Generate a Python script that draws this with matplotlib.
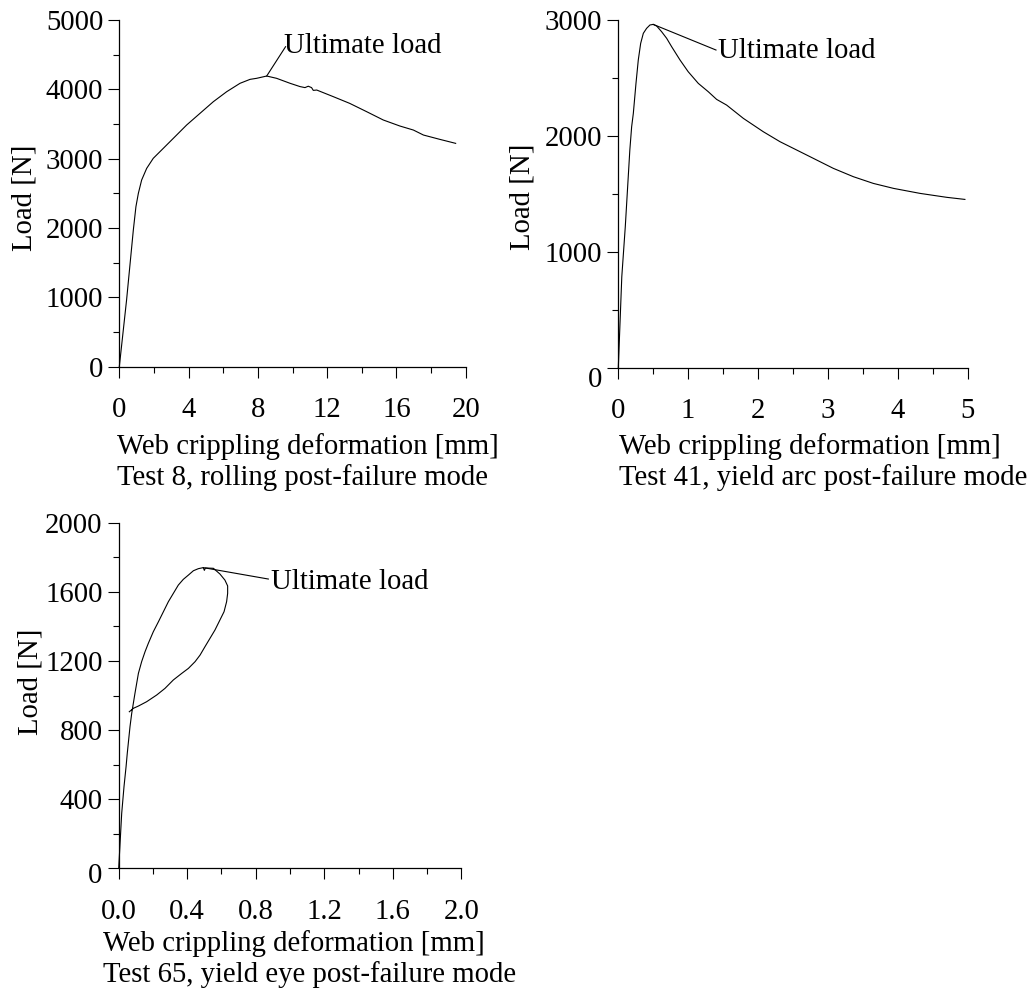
import matplotlib
matplotlib.use("Agg")
import matplotlib.pyplot as plt
from matplotlib.ticker import MultipleLocator, FormatStrFormatter
from matplotlib.transforms import ScaledTranslation

plt.rcParams['font.family'] = ['Liberation Serif', 'DejaVu Serif']
plt.rcParams['font.size'] = 20.7

# ---------------- data ----------------
# Test 8, rolling post-failure mode
t8_def = [0.0, 0.42, 0.81, 0.96, 1.1, 1.29, 1.58, 1.96, 2.54, 3.31, 3.89, 4.66, 5.43, 6.2,
          6.97, 7.55, 7.93, 8.51, 9.08, 9.86, 10.43, 10.72, 10.91, 11.1, 11.2, 11.4,
          12.36, 13.3, 14.28, 15.24, 16.2, 16.98, 17.56, 18.5, 19.42]
t8_load = [0, 962, 1971, 2308, 2500, 2692, 2860, 3005, 3149, 3341, 3486, 3654, 3822, 3966,
           4087, 4144, 4159, 4192, 4159, 4087, 4040, 4025, 4045, 4025, 3985, 3990,
           3894, 3798, 3678, 3558, 3471, 3413, 3341, 3279, 3221]

# Test 41, yield arc post-failure mode
t41_def = [0.0, 0.05, 0.1, 0.165, 0.191, 0.215, 0.253, 0.286, 0.32, 0.358, 0.405, 0.453,
           0.5, 0.549, 0.62, 0.692, 0.763, 0.883, 1.0, 1.145, 1.288, 1.407, 1.55, 1.79,
           2.075, 2.314, 2.696, 3.077, 3.364, 3.65, 3.94, 4.318, 4.7, 4.96]
t41_load = [0, 785, 1217, 1878, 2079, 2194, 2453, 2655, 2798, 2885, 2928, 2957,
            2962, 2948, 2899, 2842, 2770, 2655, 2554, 2453, 2381, 2315, 2266, 2151,
            2036, 1950, 1835, 1720, 1648, 1590, 1547, 1504, 1470, 1452]

# Test 65, yield eye post-failure mode
t65_def = [0.0, 0.0175, 0.031, 0.043, 0.05, 0.066, 0.076, 0.095, 0.115, 0.134, 0.154, 0.173,
           0.202, 0.232, 0.261, 0.29, 0.319, 0.348, 0.377, 0.407, 0.436, 0.465, 0.494,
           0.500, 0.506, 0.553, 0.591, 0.62, 0.636, 0.636, 0.630, 0.615, 0.591, 0.562,
           0.533, 0.504, 0.475, 0.446, 0.407, 0.368, 0.319, 0.27, 0.222, 0.163, 0.115,
           0.086, 0.062]
t65_load = [0, 318, 473, 588, 665, 820, 897, 1013, 1128, 1196, 1254, 1302,
            1369, 1427, 1485, 1543, 1591, 1639, 1672, 1697, 1722, 1734, 1740,
            1724, 1738, 1736, 1703, 1668, 1634, 1591, 1543, 1485, 1437, 1379,
            1331, 1283, 1234, 1196, 1157, 1128, 1090, 1041, 1003, 964, 939,
            926, 906]

x_label = "Web crippling deformation [mm]"
y_label = "Load [N]"
captions = ["Test 8, rolling post-failure mode",
            "Test 41, yield arc post-failure mode",
            "Test 65, yield eye post-failure mode"]
ann_text = "Ultimate load"

# ---------------- figure ----------------
W, H = 1036, 992
fig = plt.figure(figsize=(W / 100, H / 100), dpi=100)


def fx(px):
    return px / W


def fy(py):
    return 1 - py / H


def make_ax(l, t, r, b):
    ax = fig.add_axes([fx(l), fy(b), fx(r) - fx(l), fy(t) - fy(b)])
    for s in ('top', 'right'):
        ax.spines[s].set_visible(False)
    for s in ('left', 'bottom'):
        ax.spines[s].set_linewidth(0.9)
        ax.spines[s].set_color('black')
    ax.tick_params(which='major', direction='out', length=8, width=0.8, colors='black')
    ax.tick_params(which='minor', direction='out', length=4.3, width=0.8, colors='black')
    ax.tick_params(axis='x', which='major', pad=14)
    ax.tick_params(axis='y', which='major', pad=3.6)
    ax.patch.set_visible(False)
    return ax


def shift_zero_label(ax, dy_px):
    fig.canvas.draw()
    for t in ax.yaxis.get_major_ticks():
        if abs(t.get_loc()) < 1e-9:
            lab = t.label1
            lab.set_transform(lab.get_transform() +
                              ScaledTranslation(0, -dy_px / 100, fig.dpi_scale_trans))


lw = 0.8

# Panel 1
ax1 = make_ax(119.3, 20, 465.7, 366.7)
ax1.plot(t8_def, t8_load, color='black', lw=lw, clip_on=False)
ax1.set_xlim(0, 20)
ax1.set_ylim(0, 5000)
ax1.xaxis.set_major_locator(MultipleLocator(4))
ax1.xaxis.set_minor_locator(MultipleLocator(2))
ax1.yaxis.set_major_locator(MultipleLocator(1000))
ax1.yaxis.set_minor_locator(MultipleLocator(500))
ax1.plot([8.51, 9.6], [4192, 4615], color='black', lw=lw, clip_on=False)
ax1.text(9.5, 4520, ann_text, ha='left', va='baseline')

# Panel 2
ax2 = make_ax(618.3, 20, 967.7, 367.7)
ax2.plot(t41_def, t41_load, color='black', lw=lw, clip_on=False)
ax2.set_xlim(0, 5)
ax2.set_ylim(0, 3000)
ax2.xaxis.set_major_locator(MultipleLocator(1))
ax2.xaxis.set_minor_locator(MultipleLocator(0.5))
ax2.yaxis.set_major_locator(MultipleLocator(1000))
ax2.yaxis.set_minor_locator(MultipleLocator(500))
ax2.plot([0.5, 1.398], [2962, 2741], color='black', lw=lw, clip_on=False)
ax2.text(1.431, 2669, ann_text, ha='left', va='baseline')

# Panel 3
ax3 = make_ax(118.7, 522.7, 461.3, 868.3)
ax3.plot(t65_def, t65_load, color='black', lw=lw, clip_on=False)
ax3.set_xlim(0, 2.0)
ax3.set_ylim(0, 2000)
ax3.xaxis.set_major_locator(MultipleLocator(0.4))
ax3.xaxis.set_minor_locator(MultipleLocator(0.2))
ax3.yaxis.set_major_locator(MultipleLocator(400))
ax3.yaxis.set_minor_locator(MultipleLocator(200))
ax3.xaxis.set_major_formatter(FormatStrFormatter('%.1f'))
ax3.plot([0.494, 0.8735], [1740, 1674], color='black', lw=lw, clip_on=False)
ax3.text(0.887, 1614, ann_text, ha='left', va='baseline')

# axis labels and captions (figure-pixel placement)
fig.text(fx(117), fy(454), x_label, ha='left', va='baseline')
fig.text(fx(117), fy(485), captions[0], ha='left', va='baseline')
fig.text(fx(619), fy(454), x_label, ha='left', va='baseline')
fig.text(fx(619), fy(485), captions[1], ha='left', va='baseline')
fig.text(fx(103), fy(950.7), x_label, ha='left', va='baseline')
fig.text(fx(103), fy(982), captions[2], ha='left', va='baseline')

fig.text(fx(24), fy(198), y_label, rotation=90, ha='center', va='center')
fig.text(fx(522.5), fy(197), y_label, rotation=90, ha='center', va='center')
fig.text(fx(30), fy(681.5), y_label, rotation=90, ha='center', va='center')

shift_zero_label(ax2, 9)
shift_zero_label(ax3, 5)

fig.savefig("out.png", dpi=100)
